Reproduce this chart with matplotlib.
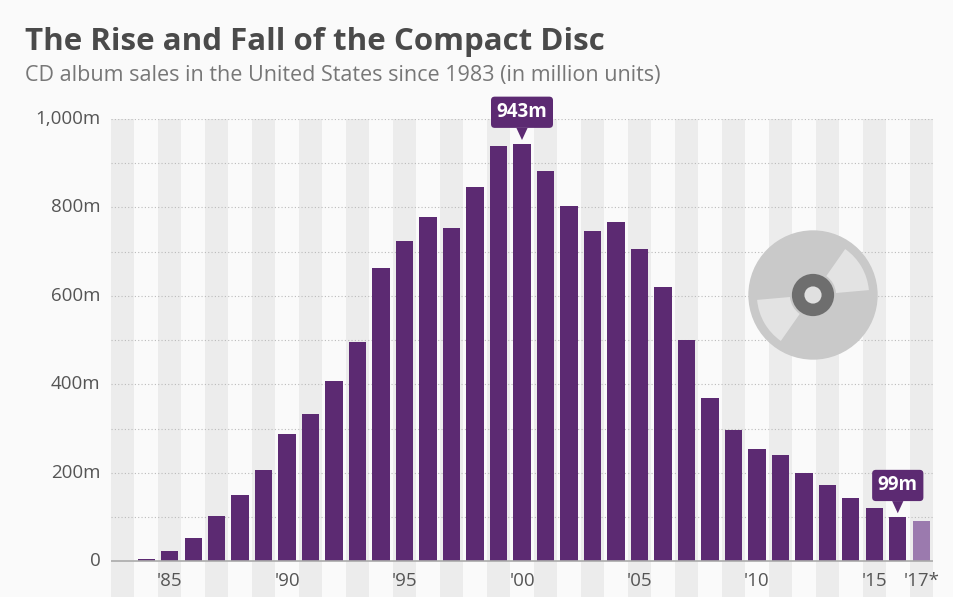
import matplotlib
matplotlib.use("Agg")
import matplotlib.pyplot as plt
from matplotlib.patches import Circle, Wedge

plt.rcParams['font.family'] = ['Open Sans', 'DejaVu Sans']

years = list(range(1983, 2018))
sales = [0.8, 5.8, 22.6, 53, 102, 150, 207, 287, 333, 408, 495, 662, 723, 779, 753,
         847, 939, 943, 882, 803, 746, 767, 705, 619, 500, 369, 297, 253, 241, 199,
         173, 143, 120, 99, 90]
tick_years = [1985, 1990, 1995, 2000, 2005, 2010, 2015, 2017]
tick_labels = ["'85", "'90", "'95", "'00", "'05", "'10", "'15", "'17*"]
y_ticks = [0, 200, 400, 600, 800, 1000]
y_labels = ["0", "200m", "400m", "600m", "800m", "1,000m"]

W, H = 954, 597
fig = plt.figure(figsize=(W/100, H/100), dpi=100, facecolor='#fafafa')
ax = fig.add_axes([111/W, 0, (933-111)/W, 1-119/H])
ax.set_facecolor('#fafafa')
ax.set_xlim(years[0]-0.5, years[-1]+0.5)
ax.set_ylim(-81, 1000)

for i, y in enumerate(years):
    if i % 2 == 0:
        ax.axvspan(y-0.5, y+0.5, color='#ececec', zorder=0, lw=0)
for v in range(100, 1001, 100):
    ax.axhline(v, color='#bbbbbb', lw=0.8, ls=(0, (1, 2)), zorder=1)

colors = ['#5c2a72']*(len(years)-1) + ['#9b7aae']
ax.bar(years, sales, width=0.74, color=colors, zorder=2)
ax.axhline(0, color='#aaaaaa', lw=1.2, zorder=3)

for s in ax.spines.values():
    s.set_visible(False)
ax.set_xticks([])
ax.set_yticks([])
for ty, tl in zip(tick_years, tick_labels):
    ax.text(ty, -44, tl, ha='center', va='center', fontsize=13.5, color='#555555')
for v, l in zip(y_ticks, y_labels):
    ax.text(years[0]-0.95, v, l, ha='right', va='center', fontsize=13.5, color='#555555', clip_on=False)

def callout(x, y, txt):
    ax.annotate(txt, (x, y), xytext=(0, 23), textcoords='offset points', ha='center', va='center',
                fontsize=13.5, fontweight='bold', color='white', zorder=5,
                bbox=dict(boxstyle='round,pad=0.3,rounding_size=0.2', fc='#5c2a72', ec='none'),
                arrowprops=dict(arrowstyle='wedge,tail_width=0.6', fc='#5c2a72', ec='none',
                                shrinkA=0, shrinkB=3))
i00 = years.index(2000)
callout(2000, sales[i00], '943m')
i16 = years.index(2016)
callout(2016, sales[i16], '99m')

# CD icon
cax = fig.add_axes([(813-66)/W, 1-(295+66)/H, 132/W, 132/H])
cax.set_xlim(-1, 1); cax.set_ylim(-1, 1); cax.set_aspect('equal'); cax.axis('off')
cax.add_patch(Circle((0, 0), 0.98, fc='#c9c9c9', ec='none'))
cax.add_patch(Wedge((0, 0), 0.85, 5, 55, width=0.5, fc='#e3e3e3', ec='none'))
cax.add_patch(Wedge((0, 0), 0.85, 185, 235, width=0.5, fc='#e3e3e3', ec='none'))
cax.add_patch(Circle((0, 0), 0.32, fc='#6e6e6e', ec='none'))
cax.add_patch(Circle((0, 0), 0.13, fc='#e0e0e0', ec='none'))

fig.text(25/W, 1-42/H, 'The Rise and Fall of the Compact Disc', fontsize=22.5, fontweight='bold',
         color='#4a4a4a', va='center')
fig.text(25/W, 1-76/H, 'CD album sales in the United States since 1983 (in million units)',
         fontsize=15.5, color='#777777', va='center')

fig.savefig('out.png', dpi=100, facecolor=fig.get_facecolor())
